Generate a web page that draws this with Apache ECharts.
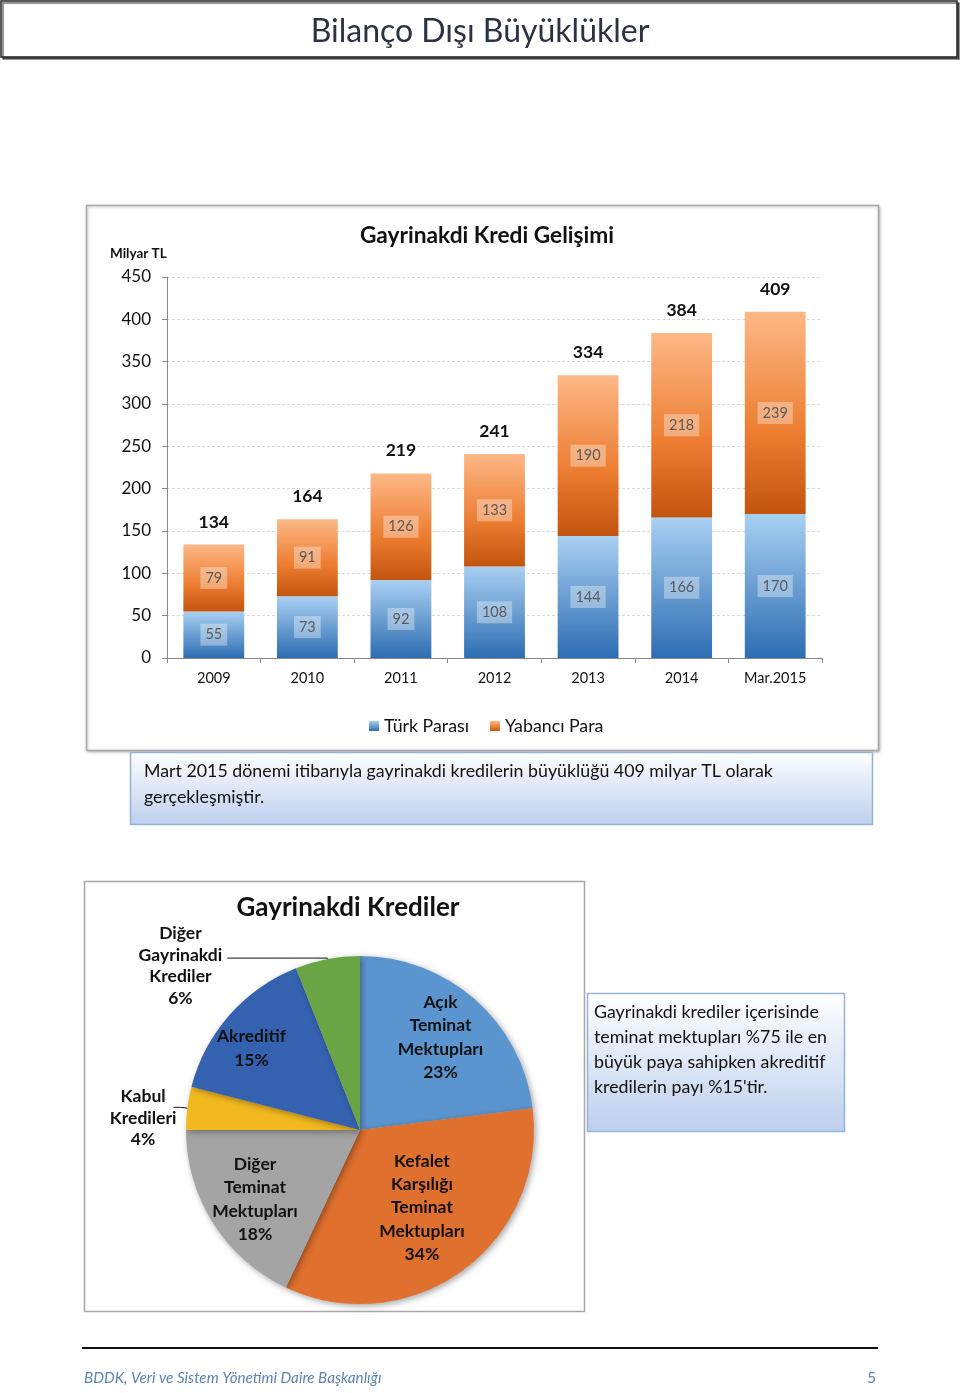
<!DOCTYPE html>
<html><head><meta charset="utf-8">
<script src="https://cdn.jsdelivr.net/npm/echarts@6.0.0/dist/echarts.min.js"></script>
<style>html,body{margin:0;padding:0;background:#fff}#c{width:960px;height:1393px}</style>
</head><body><div id="c"></div>
<script>
// ---- data ----
const categories = ['2009', '2010', '2011', '2012', '2013', '2014', 'Mar.2015'];
const turkParasi = [55, 73, 92, 108, 144, 166, 170];
const yabanciPara = [79, 91, 126, 133, 190, 218, 239];
const totals = [134, 164, 219, 241, 334, 384, 409];
const seriesNames = ['Türk Parası', 'Yabancı Para'];
const yMin = 0, yMax = 450, yStep = 50;

const pieNames = ['Açık Teminat Mektupları', 'Kefalet Karşılığı Teminat Mektupları', 'Diğer Teminat Mektupları', 'Kabul Kredileri', 'Akreditif', 'Diğer Gayrinakdi Krediler'];
const pieLabelLines = [['Açık', 'Teminat', 'Mektupları'], ['Kefalet', 'Karşılığı', 'Teminat', 'Mektupları'], ['Diğer', 'Teminat', 'Mektupları'], ['Kabul', 'Kredileri'], ['Akreditif'], ['Diğer', 'Gayrinakdi', 'Krediler']];
const pieValues = [23, 34, 18, 4, 15, 6];

// ---- styles ----
const FONT = 'Lato, "Open Sans", sans-serif';
const pieColors = ['#5b95d0', '#e0702e', '#a4a4a4', '#f2b820', '#3462b0', '#6aa545'];
const pieOutside = [false, false, false, true, false, true];
const pieLabelOffsets = [[21, -25], [9, 5], [-29, 21], [8, 11], [-41, -22], [0, 8]];
const PCX = 360, PCY = 1130, PR = 174;

const chart = echarts.init(document.getElementById('c'), null, {renderer: 'canvas'});

const blueGrad = new echarts.graphic.LinearGradient(0, 0, 0, 1, [
  {offset: 0, color: '#a9d0f2'}, {offset: 1, color: '#2d6db2'}]);
const orangeGrad = new echarts.graphic.LinearGradient(0, 0, 0, 1, [
  {offset: 0, color: '#fdb887'}, {offset: 0.6, color: '#ec7c30'}, {offset: 1, color: '#c2540f'}]);
const boxGrad = () => new echarts.graphic.LinearGradient(0, 0, 0, 1, [
  {offset: 0, color: '#ffffff'}, {offset: 1, color: '#bccfed'}]);

const innerLabel = {
  show: true, position: 'inside', fontFamily: FONT, fontSize: 14.5, color: '#5a5a5a',
  backgroundColor: 'rgba(255,255,255,0.35)', padding: [4, 5, 3, 5]
};

function pieLabelText(i) {
  return pieLabelLines[i].concat([pieValues[i] + '%']).map(s => '{c|' + s + '}').join('\n');
}

const option = {
  backgroundColor: '#fff',
  animation: false,
  textStyle: {fontFamily: FONT},
  graphic: [
    // page title box
    {type: 'rect', shape: {x: 1, y: 1, width: 956, height: 56}, style: {fill: '#fff', stroke: '#222', lineWidth: 1.5, shadowColor: 'rgba(0,0,0,0.55)', shadowOffsetX: 2, shadowOffsetY: 2}, z: -1},
    {type: 'text', style: {text: 'Bilanço Dışı Büyüklükler', x: 480, y: 32, align: 'center', verticalAlign: 'middle', font: '32px ' + FONT, fill: '#2b3342'}},
    // bar chart frame
    {type: 'rect', shape: {x: 86.5, y: 205.5, width: 792, height: 545}, style: {fill: '#fff', stroke: '#a8a8a8', lineWidth: 1.5, shadowColor: 'rgba(0,0,0,0.25)', shadowBlur: 3, shadowOffsetX: 1, shadowOffsetY: 1}, z: -1},
    {type: 'text', style: {text: 'Milyar TL', x: 110, y: 254, verticalAlign: 'middle', font: 'bold 13.5px ' + FONT, fill: '#111'}},
    // text box 1
    {type: 'rect', shape: {x: 130.5, y: 752.5, width: 742, height: 72}, style: {fill: boxGrad(), stroke: '#95b3d7', lineWidth: 1.5}},
    {type: 'text', style: {text: 'Mart 2015 dönemi itibarıyla gayrinakdi kredilerin büyüklüğü 409 milyar TL olarak\ngerçekleşmiştir.', x: 144, y: 758, lineHeight: 26, font: '17.8px ' + FONT, fill: '#111'}},
    // pie frame
    {type: 'rect', shape: {x: 84.5, y: 881.5, width: 500, height: 430}, style: {fill: '#fff', stroke: '#a8a8a8', lineWidth: 1.5}, z: -1},
    {type: 'text', style: {text: 'Gayrinakdi Krediler', x: 348, y: 908, align: 'center', verticalAlign: 'middle', font: 'bold 26px ' + FONT, fill: '#111'}},
    // text box 2
    {type: 'rect', shape: {x: 587.5, y: 993.5, width: 257, height: 138}, style: {fill: boxGrad(), stroke: '#95b3d7', lineWidth: 1.5}},
    {type: 'text', style: {text: 'Gayrinakdi krediler içerisinde\nteminat mektupları %75 ile en\nbüyük paya sahipken akreditif\nkredilerin payı %15\'tir.', x: 594, y: 1000, lineHeight: 25, font: '17.8px ' + FONT, fill: '#111'}},
    // footer
    {type: 'line', shape: {x1: 82, y1: 1348, x2: 878, y2: 1348}, style: {stroke: '#111', lineWidth: 2}},
    {type: 'text', style: {text: 'BDDK, Veri ve Sistem Yönetimi Daire Başkanlığı', x: 84, y: 1378, verticalAlign: 'middle', font: 'italic 15.2px ' + FONT, fill: '#5b84b0'}},
    {type: 'text', style: {text: '5', x: 876, y: 1378, align: 'right', verticalAlign: 'middle', font: '15px ' + FONT, fill: '#5b84b0'}}
  ],
  title: [{
    text: 'Gayrinakdi Kredi Gelişimi', left: 482, top: 219, textAlign: 'center',
    textStyle: {fontFamily: FONT, fontWeight: 'bold', fontSize: 22.7, color: '#111'}
  }],
  legend: {
    data: seriesNames, left: 364, top: 712, icon: 'rect', itemWidth: 10, itemHeight: 10, itemGap: 21,
    textStyle: {fontFamily: FONT, fontSize: 17.8, color: '#111'}
  },
  grid: {left: 167, right: 138, top: 277, bottom: 735, containLabel: false},
  xAxis: {
    type: 'category', data: categories,
    axisLine: {lineStyle: {color: '#888', width: 1}},
    axisTick: {show: true, alignWithLabel: false, length: 5, lineStyle: {color: '#888'}},
    axisLabel: {fontFamily: FONT, fontSize: 14.5, color: '#111', margin: 13}
  },
  yAxis: {
    type: 'value', min: yMin, max: yMax, interval: yStep,
    axisLine: {show: true, lineStyle: {color: '#888'}},
    axisTick: {show: true, length: 5, lineStyle: {color: '#888'}},
    axisLabel: {fontFamily: FONT, fontSize: 17, color: '#111', margin: 16},
    splitLine: {lineStyle: {color: '#d9d9d9', type: [3, 2]}}
  },
  series: [
    {name: seriesNames[0], type: 'bar', stack: 'a', barWidth: '65%', data: turkParasi,
      itemStyle: {color: blueGrad}, label: innerLabel},
    {name: seriesNames[1], type: 'bar', stack: 'a', barWidth: '65%', data: yabanciPara,
      itemStyle: {color: orangeGrad}, label: innerLabel},
    {name: 'Toplam', type: 'line', data: totals, symbol: 'circle', symbolSize: 1, showSymbol: true,
      itemStyle: {color: 'rgba(0,0,0,0)', borderWidth: 0}, lineStyle: {color: 'rgba(0,0,0,0)', width: 0}, silent: true, z: 5,
      label: {show: true, position: 'top', distance: 13, fontFamily: FONT, fontWeight: 'bold', fontSize: 17.5, color: '#111'}},
    {name: 'Gayrinakdi Krediler', type: 'pie', center: [PCX, PCY], radius: PR, startAngle: 90, clockwise: true,
      itemStyle: {shadowColor: 'rgba(0,0,0,0.35)', shadowBlur: 6, shadowOffsetX: 2, shadowOffsetY: 2},
      data: pieValues.map((v, i) => ({
        name: pieNames[i], value: v,
        itemStyle: {color: pieColors[i]},
        label: {
          show: true, position: pieOutside[i] ? 'outside' : 'inside',
          formatter: pieLabelText(i), color: '#111', fontFamily: FONT, fontWeight: 'bold', fontSize: 17.5, lineHeight: pieOutside[i] ? 21.5 : 23.3,
          rich: {c: {align: 'center', fontFamily: FONT, fontWeight: 'bold', fontSize: 17.5, lineHeight: pieOutside[i] ? 21.5 : 23.3, color: '#111'}}
        },
        labelLine: pieOutside[i] ? {show: true, length: i === 5 ? 1 : 7, length2: i === 5 ? 100 : 7, lineStyle: {color: '#111', width: 1}} : {show: false}
      })),
      labelLayout: function (p) {
        const o = pieLabelOffsets[p.dataIndex];
        return {dx: o[0], dy: o[1]};
      }
    }
  ]
};
chart.setOption(option);
</script>
</body></html>
